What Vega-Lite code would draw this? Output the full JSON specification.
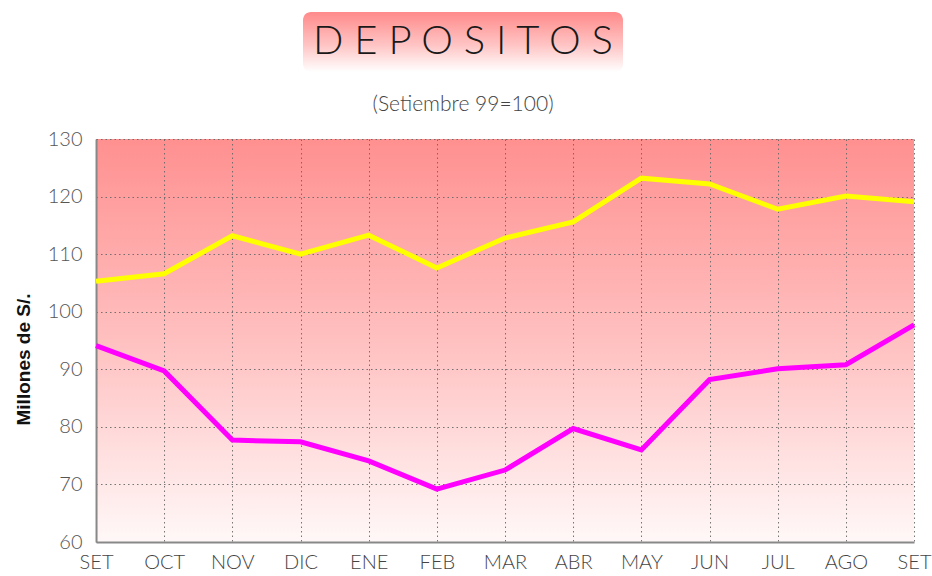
{
  "$schema": "https://vega.github.io/schema/vega-lite/v6.json",
  "padding": {"left": 14, "top": 12, "right": 5, "bottom": 0},
  "background": "white",
  "spacing": 22,
  "center": true,
  "config": {"font": "Lato", "view": {"stroke": null}},
  "vconcat": [
    {
      "width": 320,
      "height": 60,
      "title": {"text": " ", "orient": "right", "offset": 100, "fontSize": 1},
      "view": {
        "cornerRadius": 8,
        "stroke": null,
        "fill": {"gradient": "linear", "x1": 0, "y1": 0, "x2": 0, "y2": 1,
          "stops": [{"offset": 0, "color": "#ff8a8a"}, {"offset": 0.55, "color": "#ffc4c4"}, {"offset": 1, "color": "#ffffff"}]}
      },
      "data": {"values": [{"titulo": "D E P O S I T O S"}]},
      "mark": {"type": "text", "fontSize": 40, "font": "Lato", "fontWeight": 300, "color": "#1a1a1a", "baseline": "middle", "align": "center"},
      "encoding": {"text": {"field": "titulo"}}
    },
    {
      "width": 818,
      "height": 403,
      "title": {"text": "(Setiembre 99=100)", "fontSize": 21, "fontWeight": 300, "color": "#444", "offset": 14, "font": "Lato", "dx": -42},
      "view": {
        "stroke": null,
        "fill": {"gradient": "linear", "x1": 0, "y1": 0, "x2": 0, "y2": 1,
          "stops": [{"offset": 0, "color": "#ff9090"}, {"offset": 0.5, "color": "#ffc0c0"}, {"offset": 1, "color": "#fff8f8"}]}
      },
      "data": {"values": [
        {"mes": "SET-99", "serie": "Serie 1", "valor": 105.3},
        {"mes": "SET-99", "serie": "Serie 2", "valor": 94.1},
        {"mes": "OCT-99", "serie": "Serie 1", "valor": 106.6},
        {"mes": "OCT-99", "serie": "Serie 2", "valor": 89.7},
        {"mes": "NOV-99", "serie": "Serie 1", "valor": 113.2},
        {"mes": "NOV-99", "serie": "Serie 2", "valor": 77.7},
        {"mes": "DIC-99", "serie": "Serie 1", "valor": 110.0},
        {"mes": "DIC-99", "serie": "Serie 2", "valor": 77.4},
        {"mes": "ENE-00", "serie": "Serie 1", "valor": 113.3},
        {"mes": "ENE-00", "serie": "Serie 2", "valor": 74.1},
        {"mes": "FEB-00", "serie": "Serie 1", "valor": 107.6},
        {"mes": "FEB-00", "serie": "Serie 2", "valor": 69.2},
        {"mes": "MAR-00", "serie": "Serie 1", "valor": 112.8},
        {"mes": "MAR-00", "serie": "Serie 2", "valor": 72.5},
        {"mes": "ABR-00", "serie": "Serie 1", "valor": 115.6},
        {"mes": "ABR-00", "serie": "Serie 2", "valor": 79.7},
        {"mes": "MAY-00", "serie": "Serie 1", "valor": 123.2},
        {"mes": "MAY-00", "serie": "Serie 2", "valor": 76.0},
        {"mes": "JUN-00", "serie": "Serie 1", "valor": 122.2},
        {"mes": "JUN-00", "serie": "Serie 2", "valor": 88.2},
        {"mes": "JUL-00", "serie": "Serie 1", "valor": 117.8},
        {"mes": "JUL-00", "serie": "Serie 2", "valor": 90.1},
        {"mes": "AGO-00", "serie": "Serie 1", "valor": 120.1},
        {"mes": "AGO-00", "serie": "Serie 2", "valor": 90.8},
        {"mes": "SET-00", "serie": "Serie 1", "valor": 119.1},
        {"mes": "SET-00", "serie": "Serie 2", "valor": 97.7}
      ]},
      "mark": {"type": "line", "strokeWidth": 5},
      "encoding": {
        "x": {
          "field": "mes", "type": "ordinal", "sort": null,
          "scale": {"type": "point", "padding": 0},
          "axis": {
            "title": null, "labelAngle": 0, "labelFontSize": 20, "labelColor": "#444", "labelPadding": 10,
            "ticks": false, "domainColor": "#888", "domainWidth": 2,
            "grid": true, "gridDash": [1.5, 3], "gridColor": "#666", "gridOpacity": 0.9,
            "labelExpr": "split(datum.label, '-')[0]", "labelFont": "Lato", "labelFontWeight": 300
          }
        },
        "y": {
          "field": "valor", "type": "quantitative",
          "scale": {"domain": [60, 130], "nice": false, "zero": false},
          "axis": {
            "values": [60, 70, 80, 90, 100, 110, 120, 130],
            "title": "Millones de S/.", "titleFontSize": 19, "titleFontWeight": "bold", "titleColor": "#111",
            "titleFont": "Liberation Sans", "titlePadding": 14, "titleY": 220,
            "labelFontSize": 20, "labelColor": "#555", "labelPadding": 14, "labelFont": "Lato", "labelFontWeight": 300,
            "ticks": false, "domainColor": "#888", "domainWidth": 2,
            "grid": true, "gridDash": [1.5, 3], "gridColor": "#666", "gridOpacity": 0.9
          }
        },
        "color": {
          "field": "serie", "type": "nominal",
          "scale": {"domain": ["Serie 1", "Serie 2"], "range": ["#ffff00", "#ff00ff"]},
          "legend": null
        }
      }
    }
  ]
}
